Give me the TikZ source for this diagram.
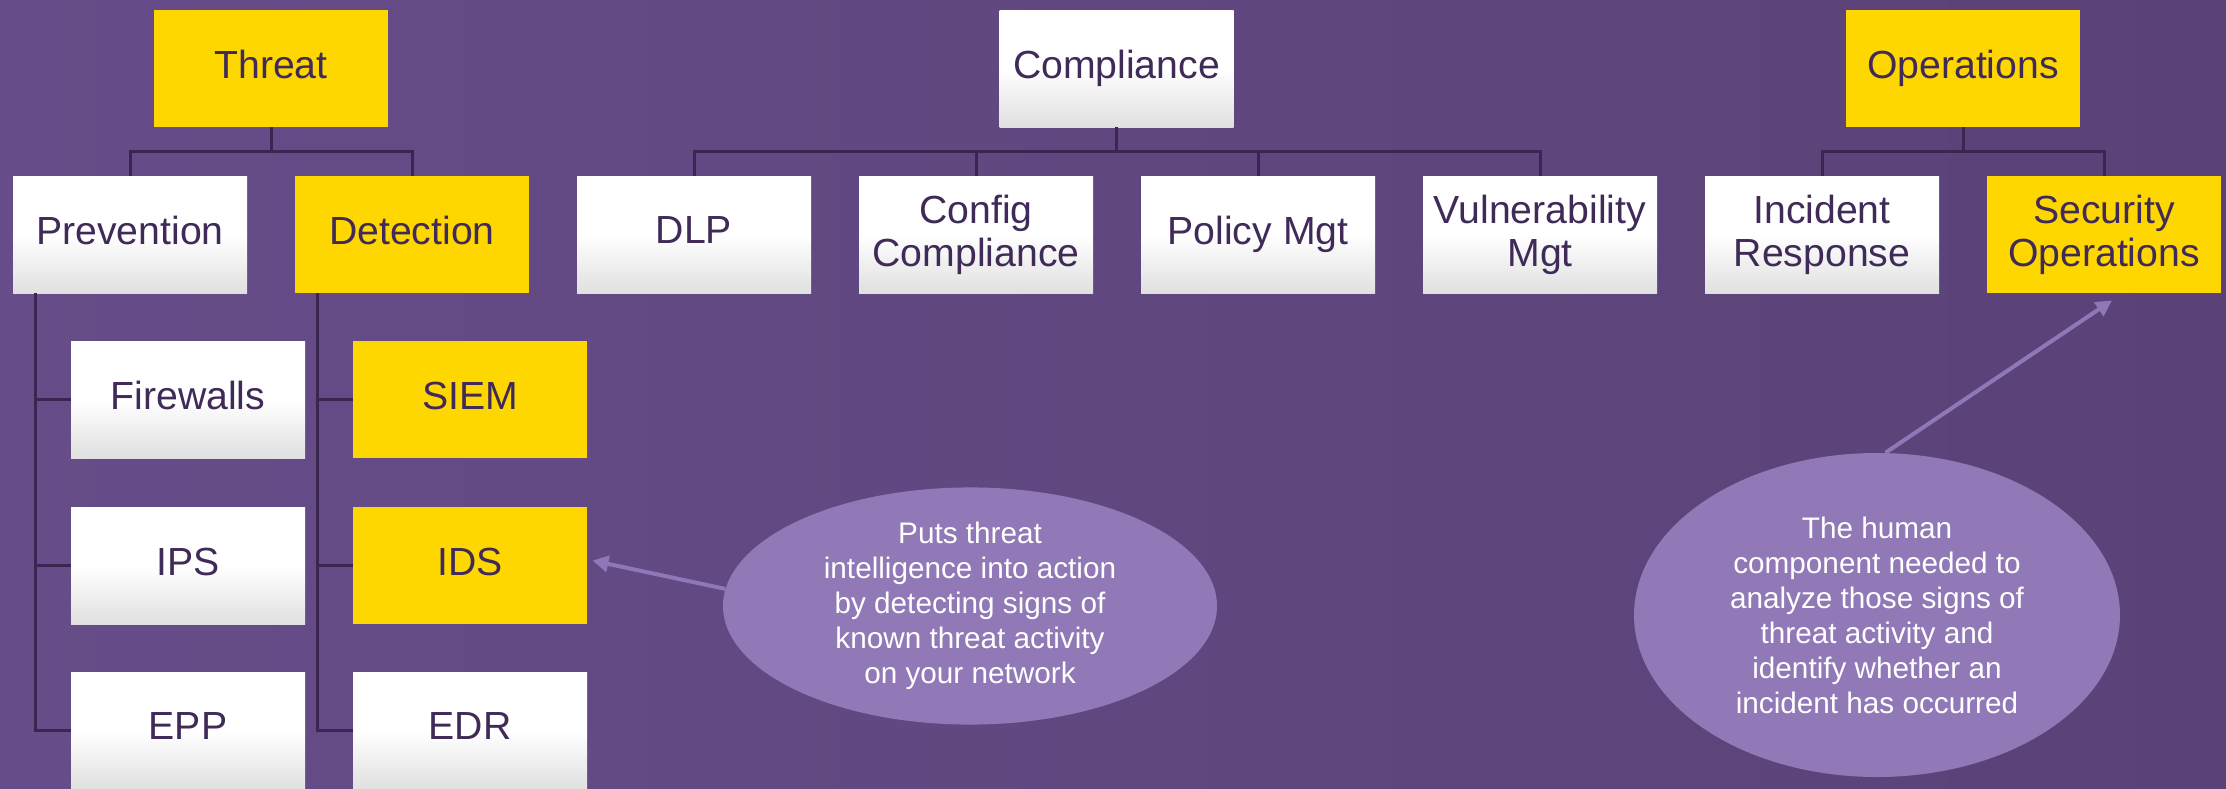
\documentclass[tikz,border=0pt]{standalone}
\usepackage{fontspec}
\setmainfont{Liberation Sans}
\usetikzlibrary{shapes.geometric,arrows.meta}
\definecolor{bgA}{HTML}{664D89}
\definecolor{bgB}{HTML}{5A4177}
\definecolor{gold}{HTML}{FFD700}
\definecolor{ink}{HTML}{3F2A58}
\definecolor{linec}{HTML}{3A2650}
\definecolor{bubble}{HTML}{9079B6}
\definecolor{arrowc}{HTML}{8F78B8}
\definecolor{boxbot}{HTML}{E0E0E0}
\tikzset{
 box/.style={minimum width=117pt, minimum height=58.5pt, inner sep=0pt, text depth=4.1pt, align=center, text=ink, font=\fontsize{19.6pt}{21.5pt}\selectfont},
 whitebox/.style={box, top color=white, bottom color=boxbot, middle color=white},
 goldbox/.style={box, fill=gold},
 conn/.style={draw=linec, line width=1.5pt},
 bubblenode/.style={ellipse, fill=bubble, inner sep=0pt, align=center, text=white, font=\fontsize{14.85pt}{17.5pt}\selectfont},
 callout/.style={draw=arrowc, line width=2pt, -{Triangle[length=8pt,width=8pt]}},
}
\begin{document}
\begin{tikzpicture}[x=0.5pt,y=-0.5pt]
\useasboundingbox (0,0) rectangle (2226,788);
\shade[left color=bgA, right color=bgB] (0,0) rectangle (2226,788);
\coordinate (bus) at (0,151);

% top level
\node[goldbox]  (threat) at (271,68.5) {Threat};
\node[whitebox] (compl)  at (1116.5,68.5) {Compliance};
\node[goldbox]  (oper)   at (1963,68.5) {Operations};

% second level
\node[whitebox] (prev)   at (130,234.5)  {Prevention};
\node[goldbox]  (det)    at (412,234.5)  {Detection};
\node[whitebox] (dlp)    at (694,234.5)  {DLP};
\node[whitebox] (config) at (976,234.5)  {Config\\Compliance};
\node[whitebox] (policy) at (1258,234.5) {Policy Mgt};
\node[whitebox] (vuln)   at (1540,234.5) {Vulnerability\\Mgt};
\node[whitebox] (inc)    at (1822,234.5) {Incident\\Response};
\node[goldbox]  (secops) at (2104,234.5) {Security\\Operations};

% third level
\node[whitebox] (fw)   at (188,399.5) {Firewalls};
\node[whitebox] (ips)  at (188,565.5) {IPS};
\node[whitebox] (epp)  at (188,730.5) {EPP};
\node[goldbox]  (siem) at (470,399.5) {SIEM};
\node[goldbox]  (ids)  at (470,565.5) {IDS};
\node[whitebox] (edr)  at (470,730.5) {EDR};

% tree connectors
\foreach \c in {prev,det}
  \draw[conn] (threat.south) -- (threat.south |- bus) -| (\c.north);
\foreach \c in {dlp,config,policy,vuln}
  \draw[conn] (compl.south) -- (compl.south |- bus) -| (\c.north);
\foreach \c in {inc,secops}
  \draw[conn] (oper.south) -- (oper.south |- bus) -| (\c.north);
\foreach \c in {fw,ips,epp}
  \draw[conn] ([xshift=11.5pt]prev.south west) |- (\c.west);
\foreach \c in {siem,ids,edr}
  \draw[conn] ([xshift=11.5pt]det.south west) |- (\c.west);

% callouts
\node[bubblenode, minimum width=247pt, minimum height=113pt] (e1) at (970,606)
  {Puts threat\\intelligence into action\\by detecting signs of\\known threat activity\\on your network};
\node[bubblenode, minimum width=243pt, minimum height=162pt] (e2) at (1877,615)
  {The human\\component needed to\\analyze those signs of\\threat activity and\\identify whether an\\incident has occurred};

\draw[callout] (e1.176) -- ([xshift=2.5pt,yshift=2.5pt]ids.east);
\draw[callout] (e2.87) -- ([xshift=4pt,yshift=-3.5pt]secops.south);
\end{tikzpicture}
\end{document}
